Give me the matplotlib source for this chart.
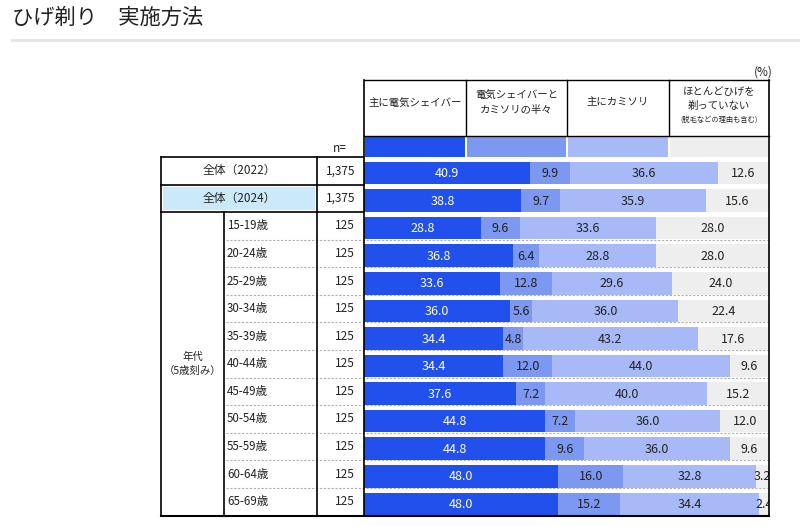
import matplotlib
matplotlib.use('Agg')
import matplotlib.pyplot as plt
from matplotlib.patches import Rectangle
import numpy as np

plt.rcParams['font.family'] = ['Noto Sans CJK JP', 'DejaVu Sans']

# ---------------- data ----------------
title = 'ひげ剃り　実施方法'
series_names = ['主に電気シェイバー', '電気シェイバーと\nカミソリの半々', '主にカミソリ',
                'ほとんどひげを\n剃っていない']
series_note = '(脱毛などの理由も含む)'
row_labels = ['全体（2022）', '全体（2024）', '15-19歳', '20-24歳', '25-29歳', '30-34歳',
              '35-39歳', '40-44歳', '45-49歳', '50-54歳', '55-59歳', '60-64歳', '65-69歳']
group_label = '年代\n（5歳刻み）'
n_values = ['1,375', '1,375', '125', '125', '125', '125', '125', '125', '125', '125',
            '125', '125', '125']
electric = [40.9, 38.8, 28.8, 36.8, 33.6, 36.0, 34.4, 34.4, 37.6, 44.8, 44.8, 48.0, 48.0]
half_half = [9.9, 9.7, 9.6, 6.4, 12.8, 5.6, 4.8, 12.0, 7.2, 7.2, 9.6, 16.0, 15.2]
razor = [36.6, 35.9, 33.6, 28.8, 29.6, 36.0, 43.2, 44.0, 40.0, 36.0, 36.0, 32.8, 34.4]
no_shave = [12.6, 15.6, 28.0, 28.0, 24.0, 22.4, 17.6, 9.6, 15.2, 12.0, 9.6, 3.2, 2.4]

colors = ['#2150ec', '#7d98f1', '#a7baf7', '#eeeeee']
text_colors = ['white', '#222222', '#222222', '#222222']

# ---------------- layout (pixels) ----------------
W, H = 800, 527
X_L, X_G, X_N, X_B0, X_B1 = 161, 224, 317, 364, 769
Y_HT, Y_HB, Y_T, Y_B = 80, 136, 157, 515.5
row_h = (Y_B - Y_T) / len(row_labels)

fig = plt.figure(figsize=(W / 100, H / 100), dpi=100)

pax = fig.add_axes([0, 0, 1, 1], zorder=0)
pax.set_xlim(0, W)
pax.set_ylim(H, 0)
pax.axis('off')

bax = fig.add_axes([X_B0 / W, 1 - Y_B / H, (X_B1 - X_B0) / W, (Y_B - Y_T) / H], zorder=1)
bax.patch.set_alpha(0)
bax.set_xlim(0, 100)
bax.set_ylim(len(row_labels) - 0.5, -0.5)
bax.axis('off')

ov = fig.add_axes([0, 0, 1, 1], zorder=2)
ov.patch.set_alpha(0)
ov.set_xlim(0, W)
ov.set_ylim(H, 0)
ov.axis('off')

# title
pax.text(12, 18, title, fontsize=15.3, ha='left', va='center', color='#222222')
pax.plot([12, 800], [40, 40], color='#e3e3ec', lw=2)

# header
cols = [X_B0, 466, 567, 669, X_B1]
for i, name in enumerate(series_names):
    cx = (cols[i] + cols[i + 1]) / 2
    if i == 3:
        pax.text(cx, 99, name, fontsize=7.5, ha='center', va='center', linespacing=1.45,
                 color='#222222')
        pax.text(cx, 119.5, series_note, fontsize=5.2, ha='center', va='center',
                 color='#222222')
    else:
        pax.text(cx, 102.5, name, fontsize=7.5, ha='center', va='center', linespacing=1.55,
                 color='#222222')
    pax.add_patch(Rectangle((cols[i] + 1, Y_HB + 1), cols[i + 1] - cols[i] - 2,
                            Y_T - Y_HB - 1.5, facecolor=colors[i], edgecolor='none'))
pax.text(763, 72, '(%)', fontsize=8.5, ha='center', va='center', color='#222222')
ov.plot([X_B0, X_B1], [Y_HT, Y_HT], color='k', lw=1)
ov.plot([X_B0, X_B1], [Y_HB, Y_HB], color='k', lw=1)
for x in cols[1:-1]:
    ov.plot([x, x], [Y_HT, Y_HB], color='k', lw=1)
ov.plot([X_B0, X_B0], [Y_HT, Y_B], color='k', lw=1.2)
ov.plot([X_B1, X_B1], [Y_HT, Y_B], color='k', lw=1.2)
pax.text(340, 149, 'n=', fontsize=8.5, ha='center', va='center', color='#222222')

# left table
centers = [Y_T + row_h * (i + 0.5) for i in range(len(row_labels))]
pax.add_patch(Rectangle((X_L + 2, Y_T + row_h + 2), X_N - X_L - 4, row_h - 4,
                        facecolor='#cbe9f8', edgecolor='none'))
for i, lab in enumerate(row_labels):
    if i < 2:
        pax.text((X_L + X_N) / 2, centers[i], lab, fontsize=8.5, ha='center', va='center',
                 color='#222222')
    else:
        pax.text(X_G + 3, centers[i], lab, fontsize=8.3, ha='left', va='center',
                 color='#222222')
    pax.text(X_B0 - 9, centers[i], n_values[i], fontsize=8.5, ha='right', va='center',
             color='#222222')
pax.text((X_L + X_G) / 2, centers[7], group_label, fontsize=7.5, ha='center', va='center',
         linespacing=1.4, color='#222222')

for k in range(3, len(row_labels)):
    y = Y_T + row_h * k
    pax.plot([X_G + 2, X_B1], [y, y], color='#b0b0b0', lw=0.8, ls=(0, (2, 1.5)))
for y in [Y_T, Y_T + row_h, Y_T + 2 * row_h]:
    ov.plot([X_L, X_B0], [y, y], color='k', lw=1.2)
ov.plot([X_L, X_B1], [Y_B, Y_B], color='k', lw=1.5)
ov.plot([X_L, X_L], [Y_T, Y_B], color='k', lw=1.2)
ov.plot([X_N, X_N], [Y_T, Y_B], color='k', lw=1.2)
ov.plot([X_G, X_G], [Y_T + 2 * row_h, Y_B], color='k', lw=1.2)

# bars
series = [electric, half_half, razor, no_shave]
ypos = np.arange(len(row_labels)) + 0.08
left = np.zeros(len(row_labels))
for s, vals in enumerate(series):
    vals = np.array(vals)
    bax.barh(ypos, vals, left=left, height=0.82, color=colors[s], edgecolor='none')
    for y, l, v in zip(ypos, left, vals):
        bax.text(l + v / 2, y + 0.02, f'{v:.1f}', fontsize=9, ha='center', va='center',
                 color=text_colors[s], clip_on=True)
    left = left + vals

fig.savefig('out.png', dpi=100)
